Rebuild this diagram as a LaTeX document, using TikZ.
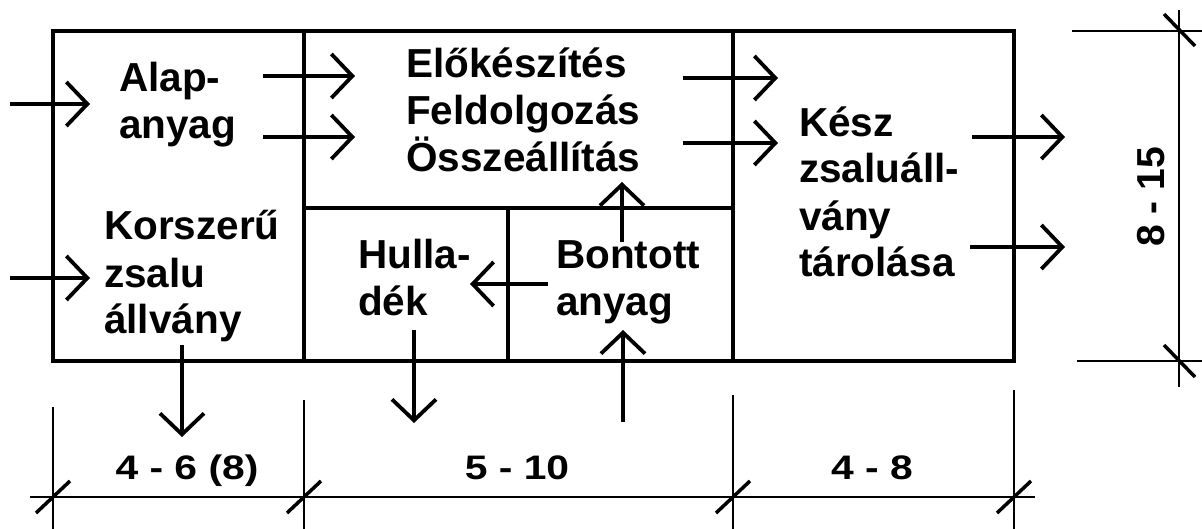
\documentclass[tikz,border=0pt]{standalone}
\usepackage{fontspec}
\setmainfont{Liberation Sans}
\usetikzlibrary{arrows.meta}
\begin{document}
\begin{tikzpicture}[x=1pt,y=-1pt,
  box/.style={line width=4.2pt},
  flow/.style={line width=3.8pt,-{Straight Barb[length=21pt,width=44pt]}},
  dimline/.style={line width=1.8pt},
  tickmark/.style={line width=3.5pt},
  lbl/.style={font=\fontsize{40.5}{47}\selectfont\bfseries, align=left, inner sep=0pt, anchor=base west},
  dimlbl/.style={font=\fontsize{34}{40}\selectfont\bfseries, inner sep=0pt}]
\useasboundingbox (0,0) rectangle (1202,529);
\fill[white] (0,0) rectangle (1202,529);
% frame
\draw[box] (53,31) rectangle (1014,361);
\draw[box] (304,31) -- (304,361);
\draw[box] (733,31) -- (733,361);
\draw[box] (304,208) -- (733,208);
\draw[box] (508,208) -- (508,361);
% texts (anchored at the baseline of the last line)
\node[lbl] (alap) at (119,139) {Alap-\\anyag};
\node[lbl] (korsz) at (104,334) {Korszerű\\zsalu\\állvány};
\node[lbl] (elo) at (406,172) {Előkészítés\\Feldolgozás\\Összeállítás};
\node[lbl] (hull) at (358,316) {Hulla-\\dék};
\node[lbl] (bont) at (556,316) {Bontott\\anyag};
\node[lbl] (kesz) at (799,277) {Kész\\zsaluáll-\\vány\\tárolása};
% arrow endpoints
\coordinate (in1) at (10,104);  \coordinate (in1e) at (90,104);
\coordinate (in2) at (10,278);  \coordinate (in2e) at (90,278);
\coordinate (ae1) at (263,76);  \coordinate (ae1e) at (355,76);
\coordinate (ae2) at (263,137); \coordinate (ae2e) at (355,137);
\coordinate (ek1) at (683,78);  \coordinate (ek1e) at (778,78);
\coordinate (ek2) at (683,143); \coordinate (ek2e) at (778,143);
\coordinate (ko1) at (972,137); \coordinate (ko1e) at (1065,137);
\coordinate (ko2) at (970,247); \coordinate (ko2e) at (1065,247);
\coordinate (bu) at (622,242);  \coordinate (bue) at (622,182);
\coordinate (bh) at (548,284);  \coordinate (bhe) at (470,284);
\coordinate (hd) at (414,330);  \coordinate (hde) at (414,423);
\coordinate (bi) at (623,422);  \coordinate (bie) at (623,330);
\coordinate (kd) at (182,345);  \coordinate (kde) at (182,437);
\foreach \s/\e in {in1/in1e,in2/in2e,ae1/ae1e,ae2/ae2e,ek1/ek1e,ek2/ek2e,ko1/ko1e,ko2/ko2e,bu/bue,bh/bhe,hd/hde,bi/bie,kd/kde}
  \draw[flow] (\s) -- (\e);
% bottom dimension
\draw[dimline] (30,497) -- (1035,497);
\draw[dimline] (53,407) -- (53,529);
\draw[dimline] (304,400) -- (304,529);
\draw[dimline] (733,395) -- (733,529);
\draw[dimline] (1014,390) -- (1014,529);
\foreach \x in {53,304,733,1014}
  \draw[tickmark] (\x-17,513) -- (\x+17,481);
\node[dimlbl, anchor=base] (d1) at (187,479) {\scalebox{1.2}[1]{4 - 6 (8)}};
\node[dimlbl, anchor=base] (d2) at (517,479) {\scalebox{1.2}[1]{5 - 10}};
\node[dimlbl, anchor=base] (d3) at (872,479) {\scalebox{1.2}[1]{4 - 8}};
% right dimension
\draw[dimline] (1179,10) -- (1179,387);
\draw[dimline] (1072,31) -- (1202,31);
\draw[dimline] (1077,361) -- (1202,361);
\draw[tickmark] (1164,14) -- (1195,46);
\draw[tickmark] (1164,345) -- (1195,377);
\node[dimlbl, font=\fontsize{39}{45}\selectfont\bfseries, rotate=90] (d4) at (1151,197) {8 - 15};
\end{tikzpicture}
\end{document}
